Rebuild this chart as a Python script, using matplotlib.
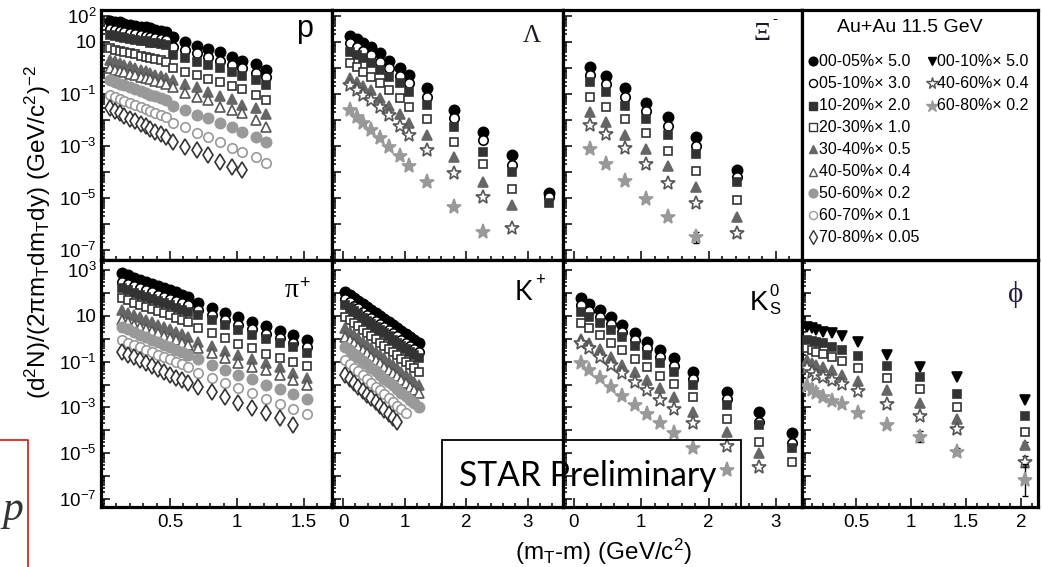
import numpy as np
import matplotlib
matplotlib.use("Agg")
import matplotlib.pyplot as plt
from matplotlib.ticker import FixedLocator, MultipleLocator, FuncFormatter, LogLocator, NullFormatter
from matplotlib.patches import Rectangle
from matplotlib.lines import Line2D

plt.rcParams['font.family'] = ['Liberation Sans', 'DejaVu Sans']
plt.rcParams['mathtext.fontset'] = 'custom'
plt.rcParams['mathtext.rm'] = 'Liberation Sans'
plt.rcParams['mathtext.it'] = 'Liberation Sans:italic'
plt.rcParams['mathtext.bf'] = 'Liberation Sans:bold'
plt.rcParams['mathtext.default'] = 'regular'

# ---------------------------------------------------------------------------
# Spectra, log10 of the scaled yield (scale factors as in the legend)
# ---------------------------------------------------------------------------
# proton
p_x = [0.05, 0.09, 0.13, 0.16, 0.20, 0.24, 0.28, 0.32, 0.35, 0.39, 0.43, 0.47,
       0.52, 0.61, 0.70, 0.78, 0.87, 0.96, 1.04, 1.14, 1.22]
p_0005 = [1.82, 1.78, 1.75, 1.71, 1.67, 1.63, 1.59, 1.56, 1.52, 1.48, 1.44, 1.40,
          1.18, 0.99, 0.86, 0.73, 0.60, 0.44, 0.28, 0.14, -0.08]
p_0510 = [1.49, 1.45, 1.42, 1.38, 1.34, 1.30, 1.26, 1.23, 1.19, 1.15, 1.12, 1.08,
          0.82, 0.69, 0.57, 0.41, 0.27, 0.12, -0.01, -0.20, -0.36]
p_1020 = [1.27, 1.23, 1.20, 1.16, 1.13, 1.09, 1.05, 1.02, 0.98, 0.95, 0.91, 0.88,
          0.50, 0.37, 0.24, 0.12, -0.01, -0.14, -0.31, -0.46, -0.65]
p_2030 = [0.76, 0.71, 0.67, 0.62, 0.57, 0.52, 0.48, 0.43, 0.38, 0.33, 0.29, 0.24,
          -0.01, -0.14, -0.27, -0.43, -0.52, -0.69, -0.82, -1.04, -1.23]
p_3040 = [0.31, 0.25, 0.19, 0.12, 0.06, 0.00, -0.07, -0.13, -0.19, -0.26, -0.32, -0.39,
          -0.46, -0.62, -0.74, -0.91, -1.08, -1.21, -1.42, -1.55, -1.77]
p_4050 = [-0.01, -0.06, -0.12, -0.17, -0.22, -0.28, -0.33, -0.38, -0.44, -0.49, -0.55, -0.60,
          -0.74, -0.95, -1.10, -1.23, -1.49, -1.62, -1.74, -2.00, -2.26]
p_5060 = [-0.46, -0.53, -0.60, -0.67, -0.74, -0.81, -0.88, -0.95, -1.02, -1.09, -1.16, -1.23,
          -1.46, -1.62, -1.81, -1.94, -2.10, -2.26, -2.45, -2.64, -2.83]
p_6070 = [-1.04, -1.12, -1.19, -1.27, -1.34, -1.42, -1.49, -1.57, -1.64, -1.72, -1.79, -1.87,
          -2.10, -2.27, -2.49, -2.64, -2.83, -3.09, -3.22, -3.41, -3.67]
p_7080 = [-1.55, -1.65, -1.75, -1.85, -1.95, -2.05, -2.15, -2.25, -2.35, -2.45, -2.54, -2.64,
          -2.83, -3.02, -3.15, -3.35, -3.60, -3.79, -3.92]

# pi+
pi_x = [0.14, 0.185, 0.23, 0.275, 0.32, 0.365, 0.41, 0.455, 0.50, 0.545, 0.59, 0.635,
        0.71, 0.81, 0.91, 1.01, 1.11, 1.22, 1.32, 1.42, 1.52]
pi_0005 = [2.86, 2.77, 2.67, 2.58, 2.49, 2.39, 2.30, 2.20, 2.11, 2.02, 1.92, 1.83,
           1.57, 1.33, 1.14, 0.93, 0.74, 0.55, 0.35, 0.16, -0.06]
pi_0510 = [2.49, 2.40, 2.30, 2.21, 2.12, 2.02, 1.93, 1.84, 1.75, 1.65, 1.56, 1.47,
           1.25, 1.03, 0.82, 0.60, 0.41, 0.21, 0.02, -0.17, -0.38]
pi_1020 = [2.20, 2.11, 2.01, 1.92, 1.83, 1.74, 1.64, 1.55, 1.46, 1.36, 1.27, 1.18,
           1.03, 0.82, 0.60, 0.38, 0.16, -0.03, -0.20, -0.38, -0.61]
pi_2030 = [1.76, 1.67, 1.57, 1.48, 1.39, 1.30, 1.20, 1.11, 1.02, 0.92, 0.83, 0.74,
           0.45, 0.24, 0.02, -0.23, -0.42, -0.65, -0.84, -1.00, -1.19]
pi_3040 = [1.25, 1.14, 1.04, 0.93, 0.83, 0.72, 0.62, 0.51, 0.41, 0.30, 0.20, 0.09,
           -0.13, -0.32, -0.52, -0.71, -0.90, -1.07, -1.25, -1.51, -1.73]
pi_4050 = [0.82, 0.72, 0.62, 0.52, 0.42, 0.33, 0.23, 0.13, 0.03, -0.07, -0.17, -0.27,
           -0.42, -0.64, -0.86, -1.07, -1.22, -1.37, -1.59, -1.80, -2.02]
pi_5060 = [0.52, 0.41, 0.30, 0.18, 0.07, -0.04, -0.15, -0.26, -0.38, -0.49, -0.60, -0.71,
           -0.90, -1.15, -1.37, -1.59, -1.77, -2.02, -2.21, -2.41, -2.65]
pi_6070 = [-0.06, -0.17, -0.27, -0.38, -0.48, -0.59, -0.69, -0.80, -0.90, -1.01, -1.11, -1.22,
           -1.48, -1.73, -1.95, -2.17, -2.38, -2.65, -2.85, -3.08, -3.29]
pi_7080 = [-0.57, -0.70, -0.82, -0.95, -1.07, -1.20, -1.32, -1.45, -1.57, -1.70, -1.82, -1.95,
           -2.10, -2.31, -2.56, -2.82, -3.04, -3.26, -3.48, -3.77]

# K+
k_x = [0.04, 0.11, 0.18, 0.25, 0.32, 0.39, 0.46, 0.53, 0.60, 0.67, 0.74, 0.81,
       0.88, 0.95, 1.02, 1.09, 1.16, 1.23]
k_0005 = [2.05, 1.92, 1.79, 1.65, 1.52, 1.39, 1.26, 1.13, 0.99, 0.86, 0.73, 0.60,
          0.46, 0.33, 0.20, 0.07, -0.07, -0.20]
k_0510 = [1.72, 1.59, 1.45, 1.32, 1.18, 1.05, 0.91, 0.78, 0.64, 0.50, 0.37, 0.23,
          0.10, -0.04, -0.17, -0.31, -0.44, -0.57]
k_1020 = [1.47, 1.33, 1.20, 1.06, 0.92, 0.79, 0.65, 0.51, 0.38, 0.24, 0.10, -0.04,
          -0.17, -0.31, -0.45, -0.58, -0.72, -0.86]
k_2030 = [0.96, 0.82, 0.68, 0.54, 0.40, 0.25, 0.11, -0.03, -0.17, -0.31, -0.45, -0.59,
          -0.73, -0.88, -1.02, -1.16, -1.30, -1.44]
k_3040 = [0.45, 0.30, 0.16, 0.01, -0.13, -0.28, -0.42, -0.57, -0.71, -0.86, -1.00, -1.15,
          -1.29, -1.44, -1.58, -1.73, -1.87, -2.02]
k_4050 = [0.09, -0.06, -0.20, -0.35, -0.49, -0.64, -0.78, -0.93, -1.07, -1.22, -1.36, -1.51,
          -1.65, -1.80, -1.94, -2.09, -2.23, -2.38]
k_5060 = [-0.35, -0.50, -0.66, -0.81, -0.97, -1.12, -1.27, -1.43, -1.58, -1.74, -1.89, -2.04,
          -2.20, -2.35, -2.51, -2.66, -2.82, -2.97]
k_6070 = [-0.93, -1.10, -1.26, -1.43, -1.60, -1.76, -1.93, -2.09, -2.26, -2.43, -2.59, -2.76,
          -2.93, -3.09, -3.26]
k_7080 = [-1.59, -1.76, -1.93, -2.10, -2.27, -2.44, -2.61, -2.77, -2.94, -3.11, -3.28, -3.45,
          -3.62]

# Lambda
lam_x = [0.11, 0.22, 0.33, 0.45, 0.60, 0.75, 0.92, 1.08, 1.36, 1.80, 2.27, 2.74, 3.35]
lam_0005 = [1.23, 1.10, 0.97, 0.82, 0.59, 0.28, -0.01, -0.27, -0.78, -1.62, -2.45, -3.35, -4.80]
lam_0510 = [0.95, 0.82, 0.67, 0.50, 0.24, -0.01, -0.31, -0.59, -1.13, -1.94, -2.77, -3.73, -4.95]
lam_1020 = [0.63, 0.50, 0.37, 0.18, -0.08, -0.33, -0.59, -0.91, -1.42, -2.26, -3.22, -3.99, -5.20]
lam_2030 = [0.18, 0.05, -0.14, -0.33, -0.59, -0.85, -1.17, -1.49, -1.97, -2.83, -3.69, -4.65]
lam_3040 = [-0.40, -0.53, -0.69, -0.85, -1.17, -1.46, -1.77, -2.10, -2.58, -3.43, -4.37, -5.27]
lam_4060 = [-0.65, -0.85, -1.04, -1.23, -1.49, -1.81, -2.23, -2.58, -3.15, -4.03, -4.95, -6.14]
lam_6080 = [-1.62, -1.87, -2.10, -2.38, -2.70, -3.03, -3.38, -3.77, -4.37, -5.33, -6.30]

# Xi-
xi_x = [0.24, 0.48, 0.76, 1.07, 1.40, 1.81, 2.42]
xi_0005 = [0.05, -0.31, -0.78, -1.34, -1.90, -2.64, -3.92]
xi_0510 = [-0.27, -0.62, -1.10, -1.64, -2.23, -3.00, -4.18]
xi_1020 = [-0.53, -0.91, -1.46, -1.97, -2.58, -3.31, -4.37]
xi_2030 = [-1.13, -1.51, -1.97, -2.51, -3.18, -3.95, -5.08]
xi_3040 = [-1.68, -2.07, -2.58, -3.13, -3.77, -4.59, -5.74]
xi_4060 = [-2.19, -2.54, -3.09, -3.69, -4.41, -5.20, -6.36]
xi_6080 = [-3.13, -3.69, -4.33, -5.05, -5.72, -6.51]
xi_err_4060 = [0, 0, 0, 0, 0, 0, 0.12]
xi_err_6080 = [0, 0, 0, 0, 0, 0.22]

# K0s
k0_x = [0.10, 0.23, 0.38, 0.55, 0.72, 0.91, 1.09, 1.28, 1.48, 1.77, 2.27, 2.75, 3.24]
k0_0005 = [1.76, 1.52, 1.25, 0.93, 0.60, 0.24, -0.13, -0.49, -0.86, -1.44, -2.31, -3.19, -4.13]
k0_0510 = [1.47, 1.22, 0.96, 0.64, 0.31, -0.06, -0.42, -0.81, -1.19, -1.77, -2.65, -3.62, -4.57]
k0_1020 = [1.18, 0.96, 0.70, 0.38, 0.06, -0.32, -0.71, -1.07, -1.44, -2.02, -2.90, -3.77, -4.79]
k0_2030 = [0.70, 0.45, 0.16, -0.20, -0.49, -0.90, -1.25, -1.63, -1.98, -2.53, -3.52, -4.50, -5.37]
k0_3040 = [-0.02, -0.17, -0.46, -0.79, -1.15, -1.44, -1.80, -2.17, -2.53, -3.19, -4.06, -5.00]
k0_4060 = [-0.17, -0.42, -0.79, -1.15, -1.51, -1.88, -2.24, -2.68, -3.08, -3.67, -4.69, -5.59]
k0_6080 = [-1.05, -1.37, -1.73, -2.10, -2.50, -2.90, -3.29, -3.69, -4.10, -4.79, -5.73]

# phi
phi_x = [0.05, 0.10, 0.14, 0.20, 0.28, 0.37, 0.52, 0.78, 1.08, 1.42, 2.04]
phi_0010 = [0.52, 0.45, 0.38, 0.31, 0.24, 0.12, -0.13, -0.71, -1.25, -1.66, -2.68]
phi_1020 = [-0.06, -0.09, -0.13, -0.20, -0.38, -0.49, -0.76, -1.19, -1.69, -2.41, -3.38]
phi_2030 = [-0.42, -0.49, -0.57, -0.67, -0.81, -0.96, -1.29, -1.73, -2.21, -3.00, -4.06]
phi_3040 = [-0.93, -1.05, -1.15, -1.25, -1.37, -1.59, -1.83, -2.24, -2.82, -3.52, -4.64]
phi_4060 = [-1.29, -1.44, -1.59, -1.69, -1.80, -1.98, -2.27, -2.85, -3.38, -3.96, -5.37]
phi_6080 = [-2.07, -2.24, -2.38, -2.53, -2.71, -2.85, -3.26, -3.77, -4.28, -4.93, -6.17]
phi_err_1020 = [0, 0, 0, 0, 0, 0, 0, 0, 0, 0, 0.08]
phi_err_2030 = [0, 0, 0, 0, 0, 0, 0, 0, 0, 0, 0.10]
phi_err_3040 = [0, 0, 0, 0, 0, 0, 0, 0, 0, 0, 0.12]
phi_err_4060 = [0, 0, 0, 0, 0, 0, 0, 0, 0.08, 0.10, 0.25]
phi_err_6080 = [0, 0, 0, 0, 0, 0, 0, 0.08, 0.25, 0.15, 0.70]

# legend text
legend_title = "Au+Au 11.5 GeV"
legend_left = [("c0005", "00-05%× 5.0"), ("c0510", "05-10%× 3.0"), ("c1020", "10-20%× 2.0"),
               ("c2030", "20-30%× 1.0"), ("c3040", "30-40%× 0.5"), ("c4050", "40-50%× 0.4"),
               ("c5060", "50-60%× 0.2"), ("c6070", "60-70%× 0.1"), ("c7080", "70-80%× 0.05")]
legend_right = [("c0010", "00-10%× 5.0"), ("c4060", "40-60%× 0.4"), ("c6080", "60-80%× 0.2")]

# ---------------------------------------------------------------------------
# marker styles per centrality class
# ---------------------------------------------------------------------------
STYLE = {
    "c0005": dict(marker="o", mfc="#000000", mec="#000000", ms=7.4),
    "c0510": dict(marker="o", mfc="white", mec="#000000", ms=6.8),
    "c1020": dict(marker="s", mfc="#333333", mec="#333333", ms=6.2),
    "c2030": dict(marker="s", mfc="white", mec="#333333", ms=6.2),
    "c3040": dict(marker="^", mfc="#666666", mec="#666666", ms=7.6),
    "c4050": dict(marker="^", mfc="white", mec="#555555", ms=7.2),
    "c5060": dict(marker="o", mfc="#999999", mec="#999999", ms=7.4),
    "c6070": dict(marker="o", mfc="white", mec="#999999", ms=6.8),
    "c7080": dict(marker="d", mfc="white", mec="#333333", ms=8.0),
    "c0010": dict(marker="v", mfc="#000000", mec="#000000", ms=7.6),
    "c4060": dict(marker="*", mfc="white", mec="#555555", ms=10.0),
    "c6080": dict(marker="*", mfc="#999999", mec="#999999", ms=11.0),
}

W, H = 1042, 567
fig = plt.figure(figsize=(W / 100, H / 100), dpi=100)


def fx(px):
    return px / W


def fy(py):
    return 1 - py / H


COLS = [101, 332, 563, 802, 1038]
ROWS = [(10, 260), (260, 507)]
XLIMS = [(-0.015, 1.709), (-0.179, 3.577), (-0.163, 3.388), (0.009, 2.155)]
YLIMS = [(10 ** -7.385, 10 ** 2.23), (10 ** -7.349, 10 ** 3.437)]
XMAJ = [[0.5, 1.0, 1.5], [0, 1, 2, 3], [0, 1, 2, 3], [0.5, 1.0, 1.5, 2.0]]
XMIN = [0.1, 0.2, 0.2, 0.1]
YLAB = [{2: "$10^{2}$", 1: "10", -1: "$10^{-1}$", -3: "$10^{-3}$", -5: "$10^{-5}$", -7: "$10^{-7}$"},
        {3: "$10^{3}$", 1: "10", -1: "$10^{-1}$", -3: "$10^{-3}$", -5: "$10^{-5}$", -7: "$10^{-7}$"}]


def make_axes(r, c):
    y0, y1 = ROWS[r]
    x0, x1 = COLS[c], COLS[c + 1]
    ax = fig.add_axes([fx(x0), fy(y1), fx(x1) - fx(x0), (y1 - y0) / H])
    for s in ax.spines.values():
        s.set_linewidth(2.3)
    ax.set_yscale("log")
    ax.set_xlim(*XLIMS[c])
    ax.set_ylim(*YLIMS[r])
    labels = YLAB[r]
    ax.yaxis.set_major_locator(FixedLocator([10.0 ** k for k in range(-8, 5)]))
    ax.yaxis.set_major_formatter(FuncFormatter(
        lambda v, pos, lab=labels: lab.get(int(round(np.log10(v))), "")))
    ax.yaxis.set_minor_locator(LogLocator(base=10, subs=np.arange(2, 10), numticks=30))
    ax.yaxis.set_minor_formatter(NullFormatter())
    ax.xaxis.set_major_locator(FixedLocator(XMAJ[c]))
    ax.xaxis.set_major_formatter(FuncFormatter(lambda v, pos: f"{v:g}"))
    ax.xaxis.set_minor_locator(MultipleLocator(XMIN[c]))
    ax.tick_params(which="both", direction="in", top=False, right=False, width=1.1,
                   labelsize=13.5, colors="black")
    ax.tick_params(which="major", length=6.5)
    ax.tick_params(which="minor", length=3.0)
    ax.tick_params(axis="y", pad=3)
    ax.tick_params(axis="x", pad=5)
    ax.tick_params(labelleft=(c == 0), labelbottom=(r == 1))
    return ax


def draw(ax, x, logy, key, z, err=None):
    st = STYLE[key]
    y = 10.0 ** np.asarray(logy, dtype=float)
    xx = np.asarray(x[:len(y)], dtype=float)
    if err is not None:
        e = np.asarray(err, dtype=float)
        m = e > 0
        lo = y[m] - y[m] * 10 ** (-e[m])
        hi = y[m] * 10 ** e[m] - y[m]
        ax.errorbar(xx[m], y[m], yerr=[lo, hi], fmt="none", ecolor="black",
                    elinewidth=1.0, capsize=2.5, capthick=1.0, zorder=z)
    ax.plot(xx, y, ls="none", marker=st["marker"], ms=st["ms"], mfc=st["mfc"],
            mec=st["mec"], mew=1.2, zorder=z + 0.5)


panels = {
    (0, 0): (p_x, [("c0005", p_0005), ("c0510", p_0510), ("c1020", p_1020), ("c2030", p_2030),
                   ("c3040", p_3040), ("c4050", p_4050), ("c5060", p_5060), ("c6070", p_6070),
                   ("c7080", p_7080)], {}),
    (0, 1): (lam_x, [("c0005", lam_0005), ("c0510", lam_0510), ("c1020", lam_1020),
                     ("c2030", lam_2030), ("c3040", lam_3040), ("c4060", lam_4060),
                     ("c6080", lam_6080)], {}),
    (0, 2): (xi_x, [("c0005", xi_0005), ("c0510", xi_0510), ("c1020", xi_1020),
                    ("c2030", xi_2030), ("c3040", xi_3040), ("c4060", xi_4060),
                    ("c6080", xi_6080)], {"c4060": xi_err_4060, "c6080": xi_err_6080}),
    (1, 0): (pi_x, [("c0005", pi_0005), ("c0510", pi_0510), ("c1020", pi_1020), ("c2030", pi_2030),
                    ("c3040", pi_3040), ("c4050", pi_4050), ("c5060", pi_5060), ("c6070", pi_6070),
                    ("c7080", pi_7080)], {}),
    (1, 1): (k_x, [("c0005", k_0005), ("c0510", k_0510), ("c1020", k_1020), ("c2030", k_2030),
                   ("c3040", k_3040), ("c4050", k_4050), ("c5060", k_5060), ("c6070", k_6070),
                   ("c7080", k_7080)], {}),
    (1, 2): (k0_x, [("c0005", k0_0005), ("c0510", k0_0510), ("c1020", k0_1020),
                    ("c2030", k0_2030), ("c3040", k0_3040), ("c4060", k0_4060),
                    ("c6080", k0_6080)], {}),
    (1, 3): (phi_x, [("c0010", phi_0010), ("c1020", phi_1020), ("c2030", phi_2030),
                     ("c3040", phi_3040), ("c4060", phi_4060), ("c6080", phi_6080)],
             {"c1020": phi_err_1020, "c2030": phi_err_2030, "c3040": phi_err_3040,
              "c4060": phi_err_4060, "c6080": phi_err_6080}),
}

for (r, c), (xs, series, errs) in panels.items():
    ax = make_axes(r, c)
    for i, (key, vals) in enumerate(series):
        draw(ax, xs, vals, key, z=3 + i, err=errs.get(key))

# legend panel
leg = fig.add_axes([fx(802), fy(260), fx(1038) - fx(802), 250 / H])
for s in leg.spines.values():
    s.set_linewidth(2.3)
leg.set_xticks([])
leg.set_yticks([])
leg.set_xlim(0, 1)
leg.set_ylim(0, 1)
leg.text(0.458, 0.932, legend_title, ha="center", va="center", fontsize=14)
row_y = [0.796, 0.708, 0.616, 0.532, 0.444, 0.352, 0.268, 0.180, 0.092]
for (key, lab), yy in zip(legend_left, row_y):
    st = STYLE[key]
    leg.plot([0.047], [yy], ls="none", marker=st["marker"], ms=st["ms"] * 0.85,
             mfc=st["mfc"], mec=st["mec"], mew=1.0)
    leg.text(0.070, yy, lab, ha="left", va="center", fontsize=11.5)
for (key, lab), yy in zip(legend_right, row_y):
    st = STYLE[key]
    leg.plot([0.551], [yy], ls="none", marker=st["marker"], ms=st["ms"] * 0.85,
             mfc=st["mfc"], mec=st["mec"], mew=1.0)
    leg.text(0.574, yy, lab, ha="left", va="center", fontsize=11.5)

# particle labels
serif = ["Liberation Serif", "DejaVu Serif"]
fig.text(fx(305), fy(37), "p", ha="center", va="baseline", fontsize=22)
fig.text(fx(532), fy(42), "Λ", ha="center", va="baseline", fontsize=18,
         family=serif, color="#1a1a2a")
fig.text(fx(762), fy(40), "Ξ", ha="center", va="baseline", fontsize=19,
         family=serif, color="#1a1a2a")
fig.text(fx(775), fy(19), "-", ha="center", va="center", fontsize=11)
fig.text(fx(292), fy(297), "π", ha="center", va="baseline", fontsize=20, family=serif)
fig.text(fx(304), fy(283), "+", ha="center", va="center", fontsize=13)
fig.text(fx(515), fy(300), "K", ha="left", va="baseline", fontsize=19, family="Lato")
fig.text(fx(540), fy(280), "+", ha="center", va="center", fontsize=12, family="Lato")
fig.text(fx(750), fy(310), "K", ha="left", va="baseline", fontsize=20)
fig.text(fx(774), fy(291), "0", ha="center", va="center", fontsize=12)
fig.text(fx(775), fy(310), "S", ha="center", va="center", fontsize=12)
fig.text(fx(1016), fy(295), "ϕ", ha="center", va="center", fontsize=21,
         family=serif, color="#2a1a3a")

# axis titles
fig.text(fx(38), fy(232), "(d$^{2}$N)/(2πm$_{T}$dm$_{T}$dy) (GeV/c$^{2}$)$^{-2}$",
         rotation=90, ha="center", va="center", fontsize=17.5)
fig.text(fx(603), fy(552), "(m$_{T}$-m) (GeV/c$^{2}$)", ha="center", va="center",
         fontsize=17.5)

# preliminary box
fig.patches.append(Rectangle((fx(442), fy(507)), fx(741) - fx(442), (507 - 440) / H,
                             transform=fig.transFigure, fill=False, edgecolor="black",
                             linewidth=1.3, zorder=20))
star = fig.text(fx(588), fy(476), "STAR Preliminary", ha="center", va="center",
                fontsize=24, family="Lato", zorder=21)
fig.canvas.draw()
bw = star.get_window_extent().width
star.set_fontsize(24 * 258 / bw)

# side marker
fig.lines.append(Line2D([0, fx(28), fx(28)], [fy(440), fy(440), 0], transform=fig.transFigure,
                        color="#e01010", linewidth=1.2))
fig.text(fx(13), fy(520), "p", ha="center", va="baseline", fontsize=30,
         family=serif, style="italic", color="#333333")

fig.savefig("out.png", dpi=100)
